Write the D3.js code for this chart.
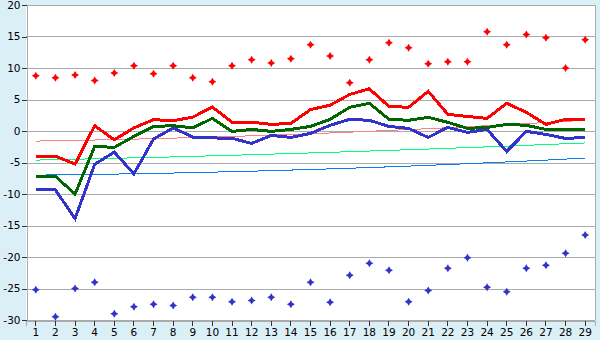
<!DOCTYPE html>
<html><head><meta charset="utf-8">
<script src="https://cdn.jsdelivr.net/npm/d3@7"></script>
<style>
html,body{margin:0;padding:0;background:#daeff6;}
svg{display:block;}
text{font-family:"DejaVu Sans",Verdana,sans-serif;font-size:10.5px;fill:#000;}
</style></head>
<body>
<svg id="chart" width="600" height="340"></svg>
<script>
const categories = [1,2,3,4,5,6,7,8,9,10,11,12,13,14,15,16,17,18,19,20,21,22,23,24,25,26,27,28,29];
const yTicks = [-30,-25,-20,-15,-10,-5,0,5,10,15,20];

const redLine = [-4.0,-4.0,-5.25,0.84,-1.4,0.5,1.8,1.64,2.2,3.8,1.4,1.4,1.05,1.2,3.4,4.1,5.8,6.7,3.9,3.76,6.3,2.65,2.3,2.0,4.4,2.96,1.05,1.85,1.85];
const greenLine = [-7.2,-7.2,-10.0,-2.45,-2.6,-0.86,0.73,0.84,0.5,2.0,-0.06,0.25,-0.06,0.25,0.73,1.85,3.76,4.4,1.85,1.7,2.17,1.37,0.41,0.57,1.05,0.9,0.25,0.25,0.25];
const blueLine = [-9.35,-9.35,-13.9,-5.3,-3.35,-6.8,-1.27,0.48,-0.96,-1.1,-1.15,-1.97,-0.7,-1.02,-0.38,0.9,1.85,1.7,0.73,0.41,-1.02,0.57,-0.22,0.25,-3.25,-0.06,-0.54,-1.18,-1.02];

const redTrend = [-1.60,-1.55,-1.49,-1.43,-1.36,-1.29,-1.21,-1.13,-1.05,-0.96,-0.86,-0.76,-0.65,-0.54,-0.43,-0.31,-0.18,-0.05,0.09,0.23,0.37,0.52,0.68,0.84,1.00,1.17,1.35,1.53,1.71];
const greenTrend = [-4.62,-4.55,-4.48,-4.41,-4.34,-4.26,-4.19,-4.11,-4.02,-3.94,-3.85,-3.76,-3.67,-3.58,-3.48,-3.39,-3.28,-3.18,-3.08,-2.97,-2.86,-2.75,-2.63,-2.52,-2.40,-2.27,-2.15,-2.02,-1.90];
const blueTrend = [-7.00,-6.97,-6.93,-6.89,-6.84,-6.79,-6.73,-6.67,-6.60,-6.53,-6.46,-6.38,-6.29,-6.20,-6.11,-6.01,-5.91,-5.80,-5.69,-5.57,-5.45,-5.32,-5.19,-5.05,-4.91,-4.77,-4.62,-4.46,-4.30];

const redPoints = [8.76,8.44,8.9,8.0,9.2,10.35,9.08,10.35,8.44,7.8,10.35,11.3,10.8,11.46,13.7,11.9,7.64,11.3,14.0,13.2,10.67,10.99,11.0,15.76,13.7,15.3,14.8,10.0,14.5];
const bluePoints = [-25.2,-29.5,-25.0,-24.0,-29.0,-27.9,-27.5,-27.7,-26.4,-26.4,-27.1,-26.9,-26.4,-27.5,-24.0,-27.2,-22.9,-21.0,-22.1,-27.1,-25.3,-21.8,-20.1,-24.8,-25.5,-21.8,-21.3,-19.4,-16.5];

const svg = d3.select("#chart");
const L = 26, R = 595, T = 5, B = 320;

const x = d3.scaleBand().domain(categories).range([L, R]).padding(0);
const y = d3.scaleLinear().domain([-30, 20]).range([B, T]);
const cx = d => x(d) + x.bandwidth() / 2;

// background
svg.append("rect").attr("x",0).attr("y",0).attr("width",600).attr("height",340).attr("fill","#daeff6");
svg.append("rect").attr("x",L).attr("y",T).attr("width",R-L).attr("height",B-T).attr("fill","#ffffff");

// gridlines
svg.append("g").selectAll("line").data(yTicks).join("line")
  .attr("x1",L).attr("x2",R)
  .attr("y1",d=>Math.round(y(d))+0.5).attr("y2",d=>Math.round(y(d))+0.5)
  .attr("stroke","#aaaaaa").attr("stroke-width",1).attr("shape-rendering","crispEdges");

// frame right
svg.append("line").attr("x1",R+0.5).attr("x2",R+0.5).attr("y1",T).attr("y2",B)
  .attr("stroke","#aaaaaa").attr("shape-rendering","crispEdges");

// axes
const yAxis = d3.axisLeft(y).tickValues(yTicks).tickSize(5).tickPadding(1).tickFormat(d => String(d));
const gy = svg.append("g").attr("transform",`translate(${L+0.5},0)`).call(yAxis);
gy.select(".domain").attr("stroke","#aaaaaa").attr("shape-rendering","crispEdges");
gy.selectAll(".tick line").attr("stroke","#333");

const xAxis = d3.axisBottom(x).tickSize(5).tickPadding(3);
const gx = svg.append("g").attr("transform",`translate(0,${B+0.5})`).call(xAxis);
gx.select(".domain").attr("stroke","#aaaaaa").attr("shape-rendering","crispEdges");
gx.selectAll(".tick line").attr("stroke","#333");
svg.selectAll(".tick line").attr("shape-rendering","crispEdges");
svg.selectAll("g").attr("font-size",null).attr("font-family",null);
svg.selectAll(".tick text").attr("fill","#000");

const line = d3.line().x((d,i)=>cx(categories[i])).y(d=>y(d));

function drawLine(data, color, width){
  svg.append("path").datum(data).attr("d",line)
    .attr("fill","none").attr("stroke",color).attr("stroke-width",width)
    .attr("stroke-linejoin","miter").attr("shape-rendering","crispEdges");
}
drawLine(redTrend, "#ff8080", 1);
drawLine(greenTrend, "#00ff80", 1);
drawLine(blueTrend, "#0a80f0", 1);
drawLine(blueLine, "#3333cc", 3);
drawLine(greenLine, "#006600", 3);
drawLine(redLine, "#ff0000", 3);

const diamond = "M0,-4L1.5,-1.5L4,0L1.5,1.5L0,4L-1.5,1.5L-4,0L-1.5,-1.5Z";
function drawPoints(data, color){
  svg.append("g").selectAll("path").data(data).join("path")
    .attr("d",diamond)
    .attr("transform",(d,i)=>`translate(${cx(categories[i])},${y(d)})`)
    .attr("fill",color);
}
drawPoints(redPoints, "#ff0000");
drawPoints(bluePoints, "#3333cc");
</script>
</body></html>
